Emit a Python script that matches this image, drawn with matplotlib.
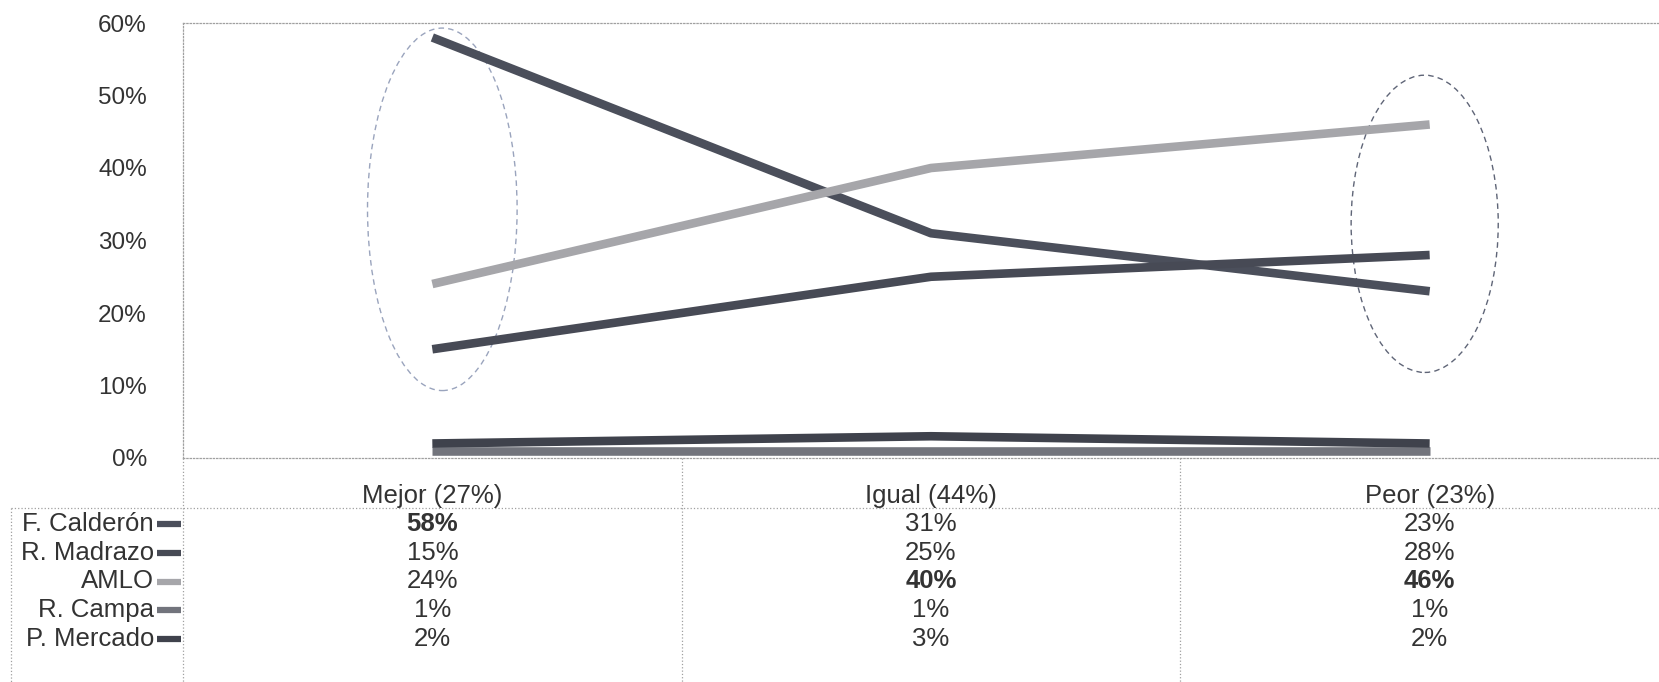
import numpy as np
import matplotlib
matplotlib.use('Agg')
import matplotlib.pyplot as plt
from matplotlib.patches import Ellipse

plt.rcParams['font.family'] = ['Liberation Sans', 'DejaVu Sans']

# data
categories = ['Mejor (27%)', 'Igual (44%)', 'Peor (23%)']
candidates = ['F. Calderón', 'R. Madrazo', 'AMLO', 'R. Campa', 'P. Mercado']
calderon = [58, 31, 23]
madrazo = [15, 25, 28]
amlo = [24, 40, 46]
campa = [1, 1, 1]
mercado = [2, 3, 2]
series = [calderon, madrazo, amlo, campa, mercado]
# cells shown in bold in the table (row, col)
bold_cells = [(0, 0), (2, 1), (2, 2)]
yticks = [0, 10, 20, 30, 40, 50, 60]

colors = ['#4b4f5b', '#474a55', '#a6a6aa', '#72747c', '#3f424c']
txt_col = '#333333'
grid_col = '#a0a0a0'

W, H = 1659, 682
fig = plt.figure(figsize=(W / 100, H / 100), dpi=100)

# plot area in pixels: left 183, right 1679, top 23, bottom 458
px_l, px_r, px_t, px_b = 183, 1679, 23, 458
ax = fig.add_axes([px_l / W, (H - px_b) / H, (px_r - px_l) / W, (px_b - px_t) / H])
x = np.arange(len(categories))
for i, vals in enumerate(series):
    ax.plot(x, np.array(vals) / 100, color=colors[i], lw=6.2,
            solid_capstyle='butt', solid_joinstyle='round', zorder=3 + (i == 4))

ax.set_xlim(-0.5, 2.5)
ax.set_ylim(0, 0.60)
ax.set_yticks(np.array(yticks) / 100)
ax.set_yticklabels([f'{v}%' for v in yticks], fontsize=17.5, color=txt_col)
ax.tick_params(axis='y', length=0, pad=26)
ax.set_xticks([])
for s in ['top', 'left', 'bottom']:
    ax.spines[s].set_color(grid_col)
    ax.spines[s].set_linewidth(0.9)
    ax.spines[s].set_linestyle(':')
ax.spines['right'].set_visible(False)

# dashed ellipses highlighting the extremes
ax.add_patch(Ellipse((0.02, 0.343), 0.30, 0.50, fill=False, ec='#9aa4bd',
                     lw=1.0, ls=(0, (4, 3)), zorder=2))
ax.add_patch(Ellipse((1.99, 0.323), 0.295, 0.41, fill=False, ec='#5f6577',
                     lw=1.0, ls=(0, (4, 3)), zorder=2))

# data table under the chart, in pixel units from the 0% line downwards
tb_h = H - px_b + 4
tb = fig.add_axes([px_l / W, -4 / H, (px_r - px_l) / W, tb_h / H])
tb.set_xlim(-0.5, 2.5)
tb.set_ylim(tb_h, 0)
tb.axis('off')

head_h = 50
row_h = 28.6
col_w = (px_r - px_l) / 3  # pixels per category
def px2x(p):
    return -0.5 + (p - px_l) / col_w

line_kw = dict(color=grid_col, lw=0.9, ls=':', clip_on=False)
tb.plot([px2x(11), 2.5], [head_h, head_h], **line_kw)
tb.plot([px2x(11), px2x(11)], [head_h, tb_h], **line_kw)
for c in range(len(categories) + 1):
    tb.plot([c - 0.5, c - 0.5], [0, tb_h], **line_kw)

fs = 18.5
for c, cat in enumerate(categories):
    tb.text(c, head_h - 12, cat, ha='center', va='center', fontsize=fs, color=txt_col)

for r, (name, vals) in enumerate(zip(candidates, series)):
    yc = head_h + 2 + row_h * (r + 0.5)
    tb.text(px2x(154), yc, name, ha='right', va='center', fontsize=fs,
            color=txt_col, clip_on=False)
    tb.plot([px2x(157), px2x(181)], [yc, yc], color=colors[r], lw=4.5,
            solid_capstyle='butt', clip_on=False)
    for c, v in enumerate(vals):
        fw = 'bold' if (r, c) in bold_cells else 'normal'
        tb.text(c, yc, f'{v}%', ha='center', va='center', fontsize=fs,
                color=txt_col, fontweight=fw)

fig.savefig('out.png', dpi=100)
